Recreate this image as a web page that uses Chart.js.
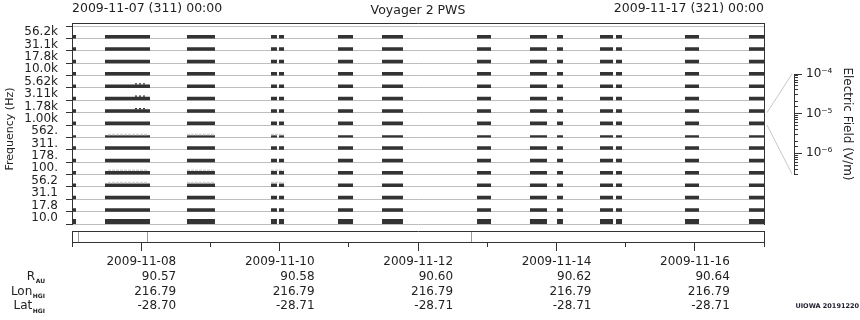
<!DOCTYPE html>
<html>
<head>
<meta charset="utf-8">
<script src="https://cdn.jsdelivr.net/npm/chart.js@4.4.0/dist/chart.umd.min.js"></script>
<style>
html,body{margin:0;padding:0;background:#fff;}
#wrap{position:relative;width:860px;height:320px;overflow:hidden;}
#main{position:absolute;left:0;top:0;}
#cbar{position:absolute;left:764px;top:0;}
</style>
</head>
<body>
<div id="wrap">
<canvas id="main" width="860" height="320"></canvas>
<canvas id="cbar" width="96" height="320"></canvas>
</div>
<script>
// ---------------- data ----------------
// frequency channels, bottom to top
const freqLabels = ['10.0','17.8','31.1','56.2','100.','178.','311.','562.','1.00k','1.78k','3.11k','5.62k','10.0k','17.8k','31.1k','56.2k'];
// data blocks: days since 2009-11-07 00:00
const blockStart = [0.000, 0.477, 1.662, 2.876, 2.991, 3.844, 4.480, 5.853, 6.618, 7.009, 7.630, 7.861, 8.858, 9.783];
const blockEnd   = [0.058, 1.127, 2.066, 2.962, 3.064, 4.061, 4.783, 6.055, 6.864, 7.095, 7.818, 7.948, 9.061, 10.000];
// weak (grey) signal above some channels
const weakRows  = [3, 4, 7];
const weakStart = [0.520, 1.662, 2.876];
const weakEnd   = [1.100, 2.066, 3.064];
// speckled strong signal above some channels
const speckRows  = [9, 10, 11];
const speckStart = [0.910];
const speckEnd   = [1.084];
// time axis
const topTickDays = [0, 5, 10];
const topLabels = ['2009-11-07 (311) 00:00', 'Voyager 2 PWS', '2009-11-17 (321) 00:00'];
const minorTickDays = [0, 2, 4, 6, 8, 10];
const dateTickDays = [1, 3, 5, 7, 9];
const dateLabels = ['2009-11-08', '2009-11-10', '2009-11-12', '2009-11-14', '2009-11-16'];
const rAU    = ['90.57', '90.58', '90.60', '90.62', '90.64'];
const lonHGI = ['216.79', '216.79', '216.79', '216.79', '216.79'];
const latHGI = ['-28.70', '-28.71', '-28.71', '-28.71', '-28.71'];
const coverageMarkDays = [0.101, 1.088, 5.770];
// colour bar (electric field)
const cbMin = 3.0e-7, cbMax = 1e-4;
const cbTickValues = [1e-4, 1e-5, 1e-6];
const cbTickLabels = ['10\u207B\u2074', '10\u207B\u2075', '10\u207B\u2076'];
const cbRowIndex = 8; // channel shown in colour bar (1.00k)

// ---------------- style ----------------
Chart.defaults.font.family = 'DejaVu Sans';
Chart.defaults.color = '#222';
const INK = '#333', GRID = '#bdbdbd';
const ROW_PX = 12.375;               // pixel height of one channel row
const rowBarPx = [5, 3.5, 3.5, 3.5, 3.5, 3.5, 3.5, 2.2, 3.5, 3.5, 3.5, 3.5, 3.5, 3.5, 3.5, 3.5];
const LABEL_SHIFT_DAYS = 0.506;      // right-aligned label block offset
const CB_TOP = 74, CB_BOTTOM = 174, CB_AXIS_X = 794;

function segs(starts, ends, yv) {
  const pts = [];
  starts.forEach((s, i) => { pts.push({x: s, y: yv}, {x: ends[i], y: yv}, {x: ends[i], y: null}); });
  return pts;
}
const lineBase = {pointRadius: 0, borderCapStyle: 'butt', spanGaps: false, fill: false, tension: 0};

const datasets = [];
weakRows.forEach(k => {
  const yv = k + (rowBarPx[k] + 0.8) / ROW_PX;
  datasets.push(Object.assign({label: 'weak ' + freqLabels[k], data: segs(weakStart, weakEnd, yv),
    borderColor: '#d2d2d2', borderWidth: 1.5, borderDash: [3, 1]}, lineBase));
});
speckRows.forEach(k => {
  const yv = k + (rowBarPx[k] + 0.6) / ROW_PX;
  datasets.push(Object.assign({label: 'speck ' + freqLabels[k], data: segs(speckStart, speckEnd, yv),
    borderColor: INK, borderWidth: 1.2, borderDash: [2, 2]}, lineBase));
});
freqLabels.forEach((lab, k) => {
  const w = rowBarPx[k];
  const yv = k + (w / 2) / ROW_PX;
  datasets.push(Object.assign({label: lab, data: segs(blockStart, blockEnd, yv),
    borderColor: INK, backgroundColor: INK, borderWidth: w}, lineBase));
});

const setTicks = (vals) => (s) => { s.ticks = vals.map(v => ({value: v})); };

const extras = {
  id: 'extras',
  afterDraw(chart) {
    const ctx = chart.ctx, y = chart.scales.y, xl = chart.scales.xlab, ca = chart.chartArea;
    ctx.save();
    // zoom connectors from channel row to colour bar
    ctx.strokeStyle = '#c8c8c8'; ctx.lineWidth = 1;
    ctx.beginPath();
    ctx.moveTo(ca.right + 3, y.getPixelForValue(cbRowIndex + 1));
    ctx.lineTo(CB_AXIS_X - 2, CB_TOP);
    ctx.moveTo(ca.right + 3, y.getPixelForValue(cbRowIndex));
    ctx.lineTo(CB_AXIS_X - 2, CB_BOTTOM);
    ctx.stroke();
    // row headers with subscripts
    const heads = [['R', 'AU'], ['Lon', 'HGI'], ['Lat', 'HGI']];
    const lh = 14.6, base = xl.top + 13;
    heads.forEach((h, i) => {
      const yc = base + lh * (i + 1.5);
      ctx.fillStyle = '#222';
      ctx.font = 'bold 6px "DejaVu Sans"';
      ctx.textAlign = 'right'; ctx.textBaseline = 'middle';
      const sw = ctx.measureText(h[1]).width;
      ctx.fillText(h[1], 45, yc + 5);
      ctx.font = '12px "DejaVu Sans"';
      ctx.fillText(h[0], 45 - sw - 0.5, yc);
    });
    // watermark
    ctx.font = 'bold 6.5px "DejaVu Sans"';
    ctx.textAlign = 'right'; ctx.textBaseline = 'middle';
    ctx.fillStyle = '#223';
    ctx.fillText('UIOWA 20191220', 859, 306);
    ctx.restore();
  }
};

new Chart(document.getElementById('main'), {
  type: 'line',
  data: {datasets},
  plugins: [extras],
  options: {
    responsive: false, animation: false, events: [],
    layout: {padding: 0},
    plugins: {legend: {display: false}, tooltip: {enabled: false}},
    scales: {
      x: {type: 'linear', min: 0, max: 10, position: 'bottom', weight: 0,
          grid: {display: false}, ticks: {display: false}, border: {display: false},
          afterFit: s => { s.height = 7; }},
      xbox: {type: 'linear', min: 0, max: 10, position: 'bottom', weight: 1,
          grid: {drawOnChartArea: false, tickLength: 11,
                 tickColor: c => (c.tick && (c.tick.value === 0 || c.tick.value === 10)) ? INK : '#999'},
          ticks: {display: false, autoSkip: false},
          border: {display: true, color: INK},
          afterBuildTicks: setTicks([0, ...coverageMarkDays, 10]),
          afterFit: s => { s.height = 11; }},
      xmin: {type: 'linear', min: 0, max: 10, position: 'bottom', weight: 2,
          grid: {drawOnChartArea: false, tickLength: 5, tickColor: INK},
          ticks: {display: false, autoSkip: false},
          border: {display: true, color: INK},
          afterBuildTicks: setTicks(minorTickDays),
          afterFit: s => { s.height = 0; }},
      xmaj: {type: 'linear', min: 0, max: 10, position: 'bottom', weight: 3,
          grid: {drawOnChartArea: false, tickLength: 9, tickColor: INK},
          ticks: {display: false, autoSkip: false},
          border: {display: false},
          afterBuildTicks: setTicks(dateTickDays),
          afterFit: s => { s.height = 0; }},
      xlab: {type: 'linear', min: 0, max: 10, position: 'bottom', weight: 4,
          grid: {display: false, drawTicks: false}, border: {display: false},
          ticks: {autoSkip: false, maxRotation: 0, minRotation: 0, align: 'end', padding: 13,
                  color: '#222', font: {size: 12, lineHeight: 14.6 / 12},
                  callback: (v, i) => [dateLabels[i], rAU[i], lonHGI[i], latHGI[i]]},
          afterBuildTicks: setTicks(dateTickDays.map(d => d + LABEL_SHIFT_DAYS)),
          afterFit: s => { s.height = 78; }},
      xt: {type: 'linear', min: 0, max: 10, position: 'top', weight: 0,
          grid: {display: false, drawTicks: false}, border: {display: true, color: INK},
          ticks: {autoSkip: false, maxRotation: 0, minRotation: 0, align: 'inner', padding: 7,
                  color: '#222',
                  font: c => (c.index === 1 ? {size: 12.5, lineHeight: 0.8} : {size: 12.5, lineHeight: 1.2}),
                  callback: (v, i) => topLabels[i]},
          afterBuildTicks: setTicks(topTickDays),
          afterFit: s => { s.height = 23; }},
      y: {type: 'linear', min: 0, max: 16 + 3 / ROW_PX, position: 'left',
          grid: {offset: true, color: GRID, tickColor: INK, tickLength: 6, lineWidth: 1},
          border: {display: true, color: INK},
          ticks: {autoSkip: false, padding: 8, color: '#222', font: {size: 12, lineHeight: 1},
                  callback: (v, i) => freqLabels[i]},
          afterBuildTicks: setTicks(freqLabels.map((_, k) => k + 0.5)),
          title: {display: true, text: 'Frequency (Hz)\u2003', color: '#222', font: {size: 11}, padding: {top: 4, bottom: 0}},
          afterFit: s => { s.width = 72; }},
      yr: {type: 'linear', min: 0, max: 16 + 3 / ROW_PX, position: 'right',
          grid: {display: false}, ticks: {display: false}, border: {display: true, color: INK},
          afterFit: s => { s.width = 96; }}
    }
  }
});

// ---------------- colour bar axis ----------------
new Chart(document.getElementById('cbar'), {
  type: 'scatter',
  data: {datasets: []},
  options: {
    responsive: false, animation: false, events: [],
    layout: {padding: {top: CB_TOP, bottom: 320 - CB_BOTTOM, left: 0, right: 0}},
    plugins: {legend: {display: false}, tooltip: {enabled: false}},
    scales: {
      x: {type: 'linear', display: false},
      ym: {type: 'logarithmic', min: cbMin, max: cbMax, position: 'right', weight: 0,
           grid: {drawOnChartArea: false, tickLength: 4, tickColor: INK},
           ticks: {display: false, autoSkip: false},
           border: {display: true, color: INK},
           afterFit: s => { s.width = 0; }},
      y: {type: 'logarithmic', min: cbMin, max: cbMax, position: 'right', weight: 1,
          grid: {drawOnChartArea: false, tickLength: 8, tickColor: INK},
          border: {display: false},
          ticks: {autoSkip: false, padding: 4, color: '#222', font: {size: 12},
                  callback: (v, i) => cbTickLabels[i]},
          afterBuildTicks: setTicks(cbTickValues),
          title: {display: true, text: 'Electric Field (V/m)', color: '#222', font: {size: 12},
                  padding: {top: 6, bottom: 0}},
          afterFit: s => { s.width = 96 - (CB_AXIS_X - 764); }}
    }
  }
});
</script>
</body>
</html>
